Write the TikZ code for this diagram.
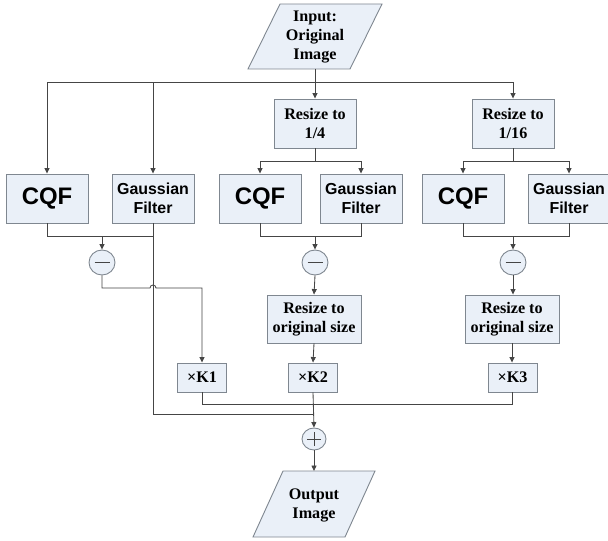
\documentclass[tikz,border=0pt]{standalone}
\usepackage{fontspec}
\setmainfont{Liberation Serif}
\setsansfont{Liberation Sans}
\usetikzlibrary{arrows.meta,shapes.geometric}
\definecolor{boxfill}{HTML}{EAF0F8}
\definecolor{boxline}{HTML}{7F8790}
\definecolor{wirecol}{HTML}{454545}
\begin{document}
\begin{tikzpicture}[x=1bp,y=-1bp,
  box/.style={draw=boxline, fill=boxfill, line width=0.9bp, inner sep=0pt, align=center},
  serif/.style={font=\fontsize{16.2}{19}\selectfont\bfseries},
  gauss/.style={font=\fontsize{16}{18.5}\selectfont\sffamily\bfseries},
  cqf/.style={font=\fontsize{24}{28}\selectfont\sffamily\bfseries},
  big/.style={box, minimum width=82bp, minimum height=49bp},
  kbox/.style={box, serif, minimum width=49bp, minimum height=29bp},
  op/.style={draw=boxline, fill=boxfill, line width=0.9bp, ellipse, inner sep=0pt},
  wire/.style={draw=wirecol, line width=0.85bp},
  arr/.style={wire, -{Triangle[length=5.5bp,width=5bp]}}]
\useasboundingbox (0,0) rectangle (608,541);

% input parallelogram
\draw[box] (280,4) -- (382,4) -- (350,69) -- (248,69) -- cycle;
\node[serif, align=center] (in) at (315,37) {Input:\\Original\\Image};
\coordinate (inb) at (315,69);

% resize boxes
\node[big, serif] (r1) at (315,123.5) {Resize to\\1/4};
\node[big, serif] (r2) at (513,123.5) {Resize to\\1/16};

% filter row
\node[big, cqf] (c1) at (47,198.5) {CQF};
\node[big, gauss] (g1) at (153,198.5) {Gaussian\\Filter};
\node[big, cqf] (c2) at (260,198.5) {CQF};
\node[big, gauss] (g2) at (361,198.5) {Gaussian\\Filter};
\node[big, cqf] (c3) at (463,198.5) {CQF};
\node[big, gauss] (g3) at (569,198.5) {Gaussian\\Filter};

% subtractors
\node[op, minimum width=26bp, minimum height=25bp] (m1) at (102,262.5) {};
\node[op, minimum width=26bp, minimum height=25bp] (m2) at (315,262.5) {};
\node[op, minimum width=26bp, minimum height=25bp] (m3) at (513,262.5) {};
\foreach \m in {m1,m2,m3}
  \draw[wirecol, line width=0.9bp] ([xshift=-7.5bp]\m.center) -- ([xshift=7.5bp]\m.center);

% resize to original
\node[box, serif, minimum width=94bp, minimum height=48bp] (o2) at (314,319) {Resize to\\original size};
\node[box, serif, minimum width=94bp, minimum height=48bp] (o3) at (512,319) {Resize to\\original size};

% gains
\node[kbox] (k1) at (202,377.5) {×K1};
\node[kbox] (k2) at (313,377.5) {×K2};
\node[kbox] (k3) at (512.5,377.5) {×K3};

% adder
\node[op, minimum width=24bp, minimum height=22bp] (p) at (314,439) {};
\draw[wirecol, line width=0.9bp] ([xshift=-7bp]p.center) -- ([xshift=7bp]p.center)
  ([yshift=-7bp]p.center) -- ([yshift=7bp]p.center);

% output parallelogram
\draw[box] (283,471) -- (375,471) -- (345,537) -- (253,537) -- cycle;
\node[serif, align=center] (out) at (314,505) {Output\\Image};
\coordinate (outt) at (314,471);

% connectors from input
\coordinate (br) at (315,82);
\draw[wire] (inb) -- (br);
\draw[arr] (br) -- (r1.north);
\draw[arr] (br) -| (c1.north);
\draw[arr] (br) -| (g1.north);
\draw[arr] (br) -| (r2.north);

% sub branches
\coordinate (s2) at (315,161);
\coordinate (s3) at (513,161);
\draw[wire] (r1.south) -- (s2);
\draw[arr] (s2) -| (c2.north);
\draw[arr] (s2) -| (g2.north);
\draw[wire] (r2.south) -- (s3);
\draw[arr] (s3) -| (c3.north);
\draw[arr] (s3) -| (g3.north);

% joins to subtractors
\coordinate (j1) at (102,236);
\coordinate (j2) at (315,236);
\coordinate (j3) at (513,236);
\draw[wire] (c1.south) |- (g1.south |- j1);
\draw[arr] (j1) -- (m1.north);
\draw[wire] (c2.south) |- (g2.south |- j2) -- (g2.south);
\draw[arr] (j2) -- (m2.north);
\draw[wire] (c3.south) |- (g3.south |- j3) -- (g3.south);
\draw[arr] (j3) -- (m3.north);

% branch 1: subtractor to K1 with a hop over the Gaussian line
\coordinate (h1) at (102,288);
\draw[arr] (m1.south) -- (h1) -- (150,288) arc[start angle=180, end angle=0, radius=3bp] -- (k1.north |- h1) -- (k1.north);

% gaussian low-pass path to adder
\coordinate (sj) at (314,414);
\draw[wire] (g1.south) |- (sj);

% branches 2 and 3
\draw[arr] (m2.south) -- (o2.north);
\draw[arr] (o2.south) -- (k2.north);
\draw[arr] (m3.south) -- (m3.south |- o3.north);
\draw[arr] (o3.south) -- (o3.south |- k3.north);

% gains to adder
\coordinate (kb) at (512.5,404);
\draw[wire] (k1.south) |- (kb) -- (k3.south);
\draw[arr] (k2.south) -- (p.north);
\draw[arr] (p.south) -- (outt);
\end{tikzpicture}
\end{document}
